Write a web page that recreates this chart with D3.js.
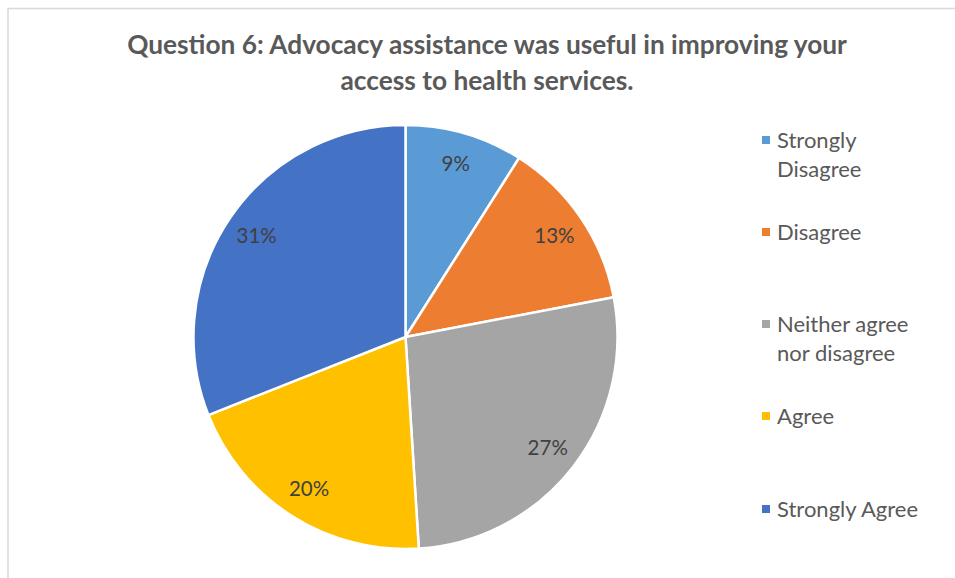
<!DOCTYPE html>
<html>
<head>
<meta charset="utf-8">
<script src="https://cdn.jsdelivr.net/npm/d3@7"></script>
<style>
  html, body { margin: 0; padding: 0; background: #fff; }
  svg { display: block; }
</style>
</head>
<body>
<svg id="chart" width="955" height="578"></svg>
<script>
// Survey responses for Question 6
const categories = ["Strongly Disagree", "Disagree", "Neither agree nor disagree", "Agree", "Strongly Agree"];
const legendLines = [["Strongly", "Disagree"], ["Disagree"], ["Neither agree", "nor disagree"], ["Agree"], ["Strongly Agree"]];
const values = [9, 13, 27, 20, 31];
const colors = ["#5B9BD5", "#ED7D31", "#A5A5A5", "#FFC000", "#4472C4"];
const titleLines = ["Question 6: Advocacy assistance was useful in improving your", "access to health services."];

const svg = d3.select("#chart");
const font = "Lato, 'Open Sans', sans-serif";

// outer chart frame
svg.append("rect")
  .attr("x", 8).attr("y", 8.5)
  .attr("width", 1000).attr("height", 620)
  .attr("fill", "#fff")
  .attr("stroke", "#d9d9d9").attr("stroke-width", 1.5);

// title, each line fitted to its measured width
const titleWidths = [720, 293];
const titleY = [54, 90];
titleLines.forEach((t, i) => {
  const txt = svg.append("text")
    .attr("x", 487).attr("y", titleY[i])
    .attr("text-anchor", "middle")
    .attr("font-family", font)
    .attr("font-weight", "bold")
    .attr("font-size", 22)
    .attr("fill", "#595959")
    .text(t);
  const w = txt.node().getComputedTextLength();
  txt.attr("font-size", 22 * titleWidths[i] / w);
});

// pie
const cx = 405.5, cy = 337, radius = 212;
const pie = d3.pie().sort(null).value(d => d)(values);
const arc = d3.arc().innerRadius(0).outerRadius(radius);
const labelArc = d3.arc().innerRadius(180).outerRadius(180);

const g = svg.append("g").attr("transform", `translate(${cx},${cy})`);
g.selectAll("path.slice")
  .data(pie)
  .join("path")
  .attr("class", "slice")
  .attr("d", arc)
  .attr("fill", (d, i) => colors[i])
  .attr("stroke", "#fff")
  .attr("stroke-width", 2.5)
  .attr("stroke-linejoin", "round");

g.selectAll("text.pct")
  .data(pie)
  .join("text")
  .attr("class", "pct")
  .attr("transform", d => `translate(${labelArc.centroid(d)})`)
  .attr("text-anchor", "middle")
  .attr("dy", "0.35em")
  .attr("font-family", font)
  .attr("font-size", 20.5)
  .attr("fill", "#404040")
  .text(d => d.data + "%");

// legend
const legendY = [140, 232, 324, 416, 509];
const lg = svg.append("g");
categories.forEach((c, i) => {
  const item = lg.append("g").attr("transform", `translate(762,${legendY[i]})`);
  item.append("rect")
    .attr("x", 0).attr("y", -4)
    .attr("width", 8).attr("height", 8)
    .attr("fill", colors[i]);
  legendLines[i].forEach((line, j) => {
    item.append("text")
      .attr("x", 15).attr("y", j * 29)
      .attr("dy", "0.35em")
      .attr("font-family", font)
      .attr("font-size", 22)
      .attr("fill", "#595959")
      .text(line);
  });
});
</script>
</body>
</html>
